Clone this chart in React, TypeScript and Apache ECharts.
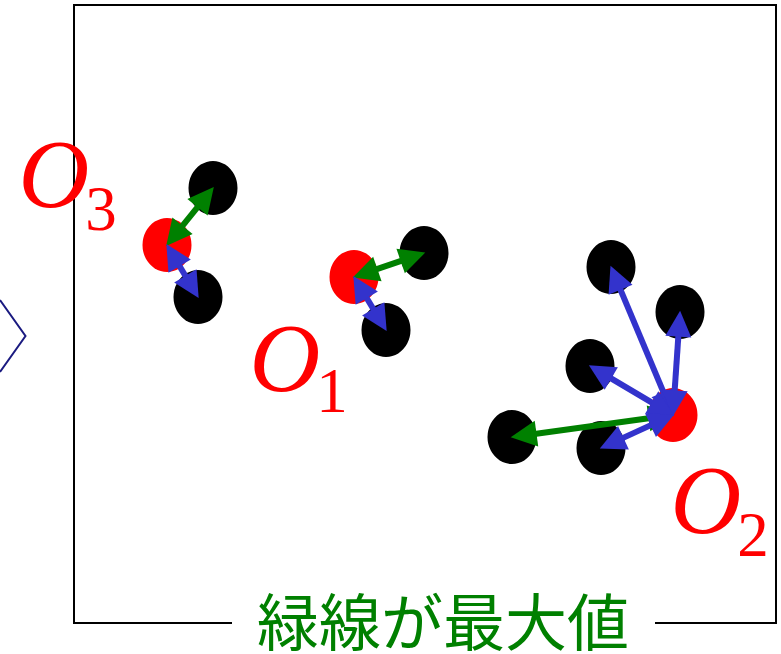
import { useEffect, useRef } from "react";
import * as echarts from "echarts";

const W = 781;
const H = 654;

// Red origin points O1, O2, O3 (data units = pixel space of the figure)
const originLabels = ["1", "2", "3"];
const originX = [354, 673, 167];
const originY = [277, 415, 245];

// Black points, the origin each belongs to, and whether it is the farthest one (green)
const pointX = [424, 386, 611, 680, 590, 512, 601, 213, 198];
const pointY = [253, 330, 267, 312, 366, 437, 448, 188, 297];
const pointOrigin = [0, 0, 1, 1, 1, 1, 1, 2, 2];
const pointIsMax = [true, false, false, false, false, true, false, true, false];

// Label anchor positions (O glyph centre, subscript centre)
const labelOX = [285, 706, 54];
const labelOY = [358, 500, 174];
const labelSubX = [332, 753, 101];
const labelSubY = [391, 535, 209];

const caption = "緑線が最大値";

const ARROW = 26;

function arrowCoords(i: number) {
  const o = pointOrigin[i];
  const x1 = originX[o];
  const y1 = originY[o];
  const x2 = pointX[i];
  const y2 = pointY[i];
  const dx = x2 - x1;
  const dy = y2 - y1;
  const len = Math.sqrt(dx * dx + dy * dy);
  const s = (ARROW * 0.45) / len;
  return [
    [x1 + dx * s, y1 + dy * s],
    [x2 - dx * s, y2 - dy * s],
  ];
}

export default function App() {
  const ref = useRef<HTMLDivElement>(null);
  useEffect(() => {
    document.body.style.margin = "0";
    const chart = echarts.init(ref.current!, null, { renderer: "svg" });
    const greenLines: any[] = [];
    const blueLines: any[] = [];
    pointX.forEach((_, i) => {
      (pointIsMax[i] ? greenLines : blueLines).push({ coords: arrowCoords(i) });
    });
    const graphics: any[] = [
      {
        type: "polyline",
        shape: { points: [[232, 623], [74, 623], [74, 5], [776, 5], [776, 623], [655, 623]] },
        style: { stroke: "#000", lineWidth: 2, fill: null },
      },
      {
        type: "polyline",
        shape: { points: [[0, 300], [25.5, 336], [0, 372]] },
        style: { stroke: "#1a1a80", lineWidth: 2, fill: null },
      },
      {
        type: "text",
        x: 443,
        y: 619,
        style: {
          legacy: false,
          text: caption,
          fontSize: 62,
          fontFamily: "Noto Sans CJK JP",
          fill: "#008000",
          align: "center",
          verticalAlign: "middle",
        },
      },
    ];
    originLabels.forEach((sub, k) => {
      graphics.push({
        type: "text",
        x: labelOX[k],
        y: labelOY[k],
        z: 10,
        style: {
          legacy: false,
          text: "O",
          fontSize: 98,
          fontStyle: "italic",
          fontFamily: "Liberation Serif",
          fill: "#ff0000",
          align: "center",
          verticalAlign: "middle",
        },
      });
      graphics.push({
        type: "text",
        x: labelSubX[k],
        y: labelSubY[k],
        z: 10,
        style: {
          legacy: false,
          text: sub,
          fontSize: 63,
          fontFamily: "Liberation Serif",
          fill: "#ff0000",
          align: "center",
          verticalAlign: "middle",
        },
      });
    });
    chart.setOption({
      animation: false,
      grid: { left: 0, right: 0, top: 0, bottom: 0 },
      xAxis: { type: "value", min: 0, max: W, show: false },
      yAxis: { type: "value", min: 0, max: H, inverse: true, show: false },
      series: [
        {
          type: "scatter",
          symbol: "circle",
          symbolSize: [49, 54],
          itemStyle: { color: "#000000", opacity: 1 },
          data: pointX.map((x, i) => [x, pointY[i]]),
          z: 2,
        },
        {
          type: "scatter",
          symbol: "circle",
          symbolSize: [49, 54],
          itemStyle: { color: "#ff0000", opacity: 1 },
          data: originX.map((x, i) => [x, originY[i]]),
          z: 2,
        },
        {
          type: "lines",
          coordinateSystem: "cartesian2d",
          symbol: ["triangle", "triangle"],
          symbolSize: ARROW,
          lineStyle: { color: "#008000", width: 6, opacity: 1 },
          itemStyle: { color: "#008000" },
          data: greenLines,
          z: 3,
        },
        {
          type: "lines",
          coordinateSystem: "cartesian2d",
          symbol: ["triangle", "triangle"],
          symbolSize: ARROW,
          lineStyle: { color: "#3333cc", width: 6, opacity: 1 },
          itemStyle: { color: "#3333cc" },
          data: blueLines,
          z: 4,
        },
      ],
      graphic: graphics,
    });
    return () => chart.dispose();
  }, []);
  return <div ref={ref} style={{ position: "fixed", left: 0, top: 0, width: W, height: H }} />;
}
